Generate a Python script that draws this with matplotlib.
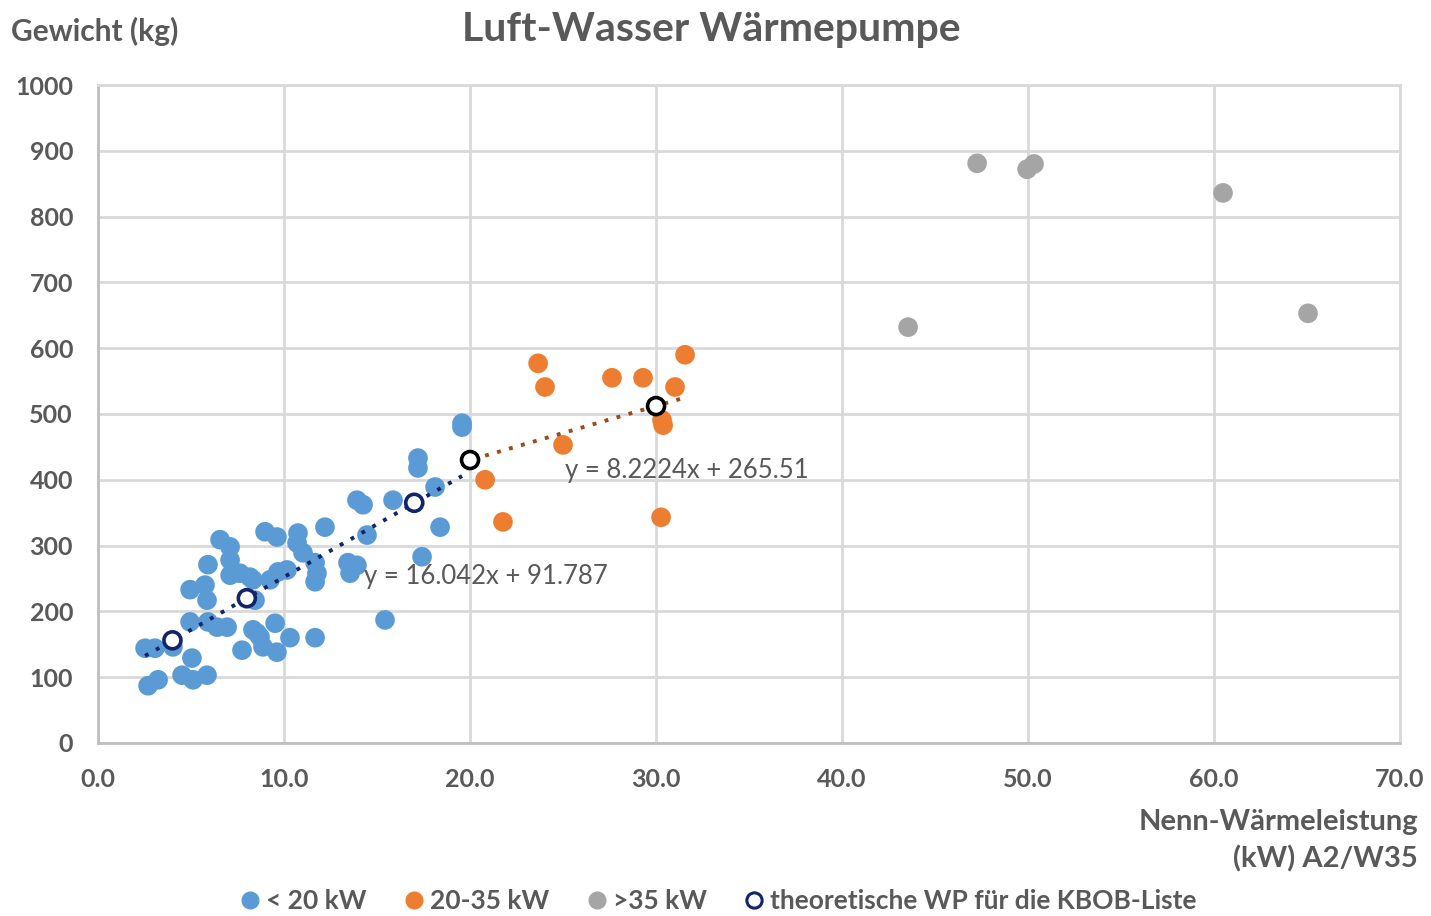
import numpy as np
import matplotlib
matplotlib.use("Agg")
from matplotlib import pyplot as plt
from matplotlib.lines import Line2D

# --- data ---
blue_x = [2.69, 3.23, 2.53, 3.06, 4.03, 5.05, 4.52, 5.11, 5.86, 4.95, 5.91, 6.40, 6.94,
          4.95, 5.75, 5.86, 5.91, 6.56, 7.10, 7.10, 7.10, 7.63, 8.17, 8.44, 7.74, 8.33,
          8.71, 8.87, 9.62, 9.52, 10.32, 11.67, 8.98, 9.62, 10.75, 10.70, 11.02, 12.20,
          11.67, 11.67, 9.68, 9.25, 10.16, 8.33, 11.77, 13.44, 13.55, 13.92, 13.92, 14.25,
          14.46, 15.86, 18.12, 18.39, 17.42, 15.43, 17.20, 17.20, 19.57, 19.57, 8.55]
blue_y = [87, 96, 144, 144, 146, 129, 103, 96, 103, 184, 184, 176, 176,
          233, 240, 217, 271, 309, 298, 278, 255, 258, 252, 217, 141, 172,
          161, 146, 138, 182, 160, 160, 321, 313, 319, 304, 289, 328,
          274, 245, 260, 248, 263, 248, 258, 274, 258, 270, 369, 362,
          316, 369, 389, 328, 283, 187, 433, 418, 480, 486, 167]

orange_x = [23.66, 24.03, 27.63, 29.30, 31.56, 31.02, 30.32, 30.38, 25.0, 20.81, 21.77, 30.27]
orange_y = [577, 541, 555, 555, 590, 541, 491, 483, 453, 400, 336, 343]

gray_x = [43.55, 47.26, 49.95, 50.32, 60.48, 65.05]
gray_y = [632, 881, 872, 880, 836, 653]

# theoretical heat pumps for the KBOB list
kbob_x = [4, 8, 17, 20, 30]
kbob_y = [156, 220, 365, 430, 512]

# trendlines (as printed on the chart)
fit_small = (16.042, 91.787)
fit_mid = (8.2224, 265.51)

c_blue = "#5b9bd5"
c_orange = "#ed7d31"
c_gray = "#a5a5a5"
c_navy = "#13246b"
c_text = "#595959"

plt.rcParams["font.family"] = ["Lato", "DejaVu Sans"]

fig = plt.figure(figsize=(14.31, 9.16), dpi=100)
ax = fig.add_axes([0.0685, 0.1889, 0.9099, 0.7183])

ax.scatter(blue_x, blue_y, s=200, color=c_blue, edgecolors="none", zorder=3)
ax.scatter(orange_x, orange_y, s=200, color=c_orange, edgecolors="none", zorder=3)
ax.scatter(gray_x, gray_y, s=200, color=c_gray, edgecolors="none", zorder=3)

# trendlines over the range of each group
xs = np.array([min(blue_x), max(blue_x)])
ax.plot(xs, fit_small[0] * xs + fit_small[1], ls=(0, (1, 2.2)), lw=2.8,
        color=c_navy, zorder=4)
xo = np.array([min(orange_x), max(orange_x)])
ax.plot(xo, fit_mid[0] * xo + fit_mid[1], ls=(0, (1, 2.2)), lw=2.8,
        color="#9c4a1a", zorder=4)

kbob_col = [c_navy, c_navy, c_navy, "black", "black"]
ax.scatter(kbob_x, kbob_y, s=150, facecolors="white", edgecolors=kbob_col,
           linewidths=2.6, zorder=5)

ax.text(14.3, 253, "y = 16.042x + 91.787", fontsize=18.5, color=c_text,
        va="center", zorder=6)
ax.text(25.1, 414, "y = 8.2224x + 265.51", fontsize=18.5, color=c_text,
        va="center", zorder=6)

ax.set_xlim(0, 70)
ax.set_ylim(0, 1000)
ax.set_xticks(np.arange(0, 71, 10))
ax.set_xticklabels([f"{v:.1f}" for v in np.arange(0, 71, 10)])
ax.set_yticks(np.arange(0, 1001, 100))
ax.grid(True, color="#d9d9d9", lw=2)
ax.set_axisbelow(True)
for sp in ax.spines.values():
    sp.set_color("#d9d9d9")
    sp.set_linewidth(2)
ax.spines["left"].set_color("#bfbfbf")
ax.spines["bottom"].set_color("#bfbfbf")
ax.tick_params(length=0, labelsize=18, labelcolor=c_text, pad=18)
for lab in ax.get_xticklabels() + ax.get_yticklabels():
    lab.set_fontweight("bold")

fig.text(0.497, 0.968, "Luft-Wasser Wärmepumpe", ha="center", va="center",
         fontsize=29.5, fontweight="bold", color=c_text)
fig.text(0.008, 0.966, "Gewicht (kg)", ha="left", va="center",
         fontsize=21.5, fontweight="bold", color=c_text)
fig.text(0.991, 0.082, "Nenn-Wärmeleistung\n(kW) A2/W35", ha="right", va="center",
         fontsize=21, fontweight="bold", color=c_text, linespacing=1.45,
         multialignment="right")

handles = [
    Line2D([], [], marker="o", ls="", color=c_blue, markersize=12),
    Line2D([], [], marker="o", ls="", color=c_orange, markersize=12),
    Line2D([], [], marker="o", ls="", color=c_gray, markersize=12),
    Line2D([], [], marker="o", ls="", markerfacecolor="white",
           markeredgecolor=c_navy, markeredgewidth=2.2, markersize=11),
]
labels = ["< 20 kW", "20-35 kW", ">35 kW", "theoretische WP für die KBOB-Liste"]
leg = fig.legend(handles, labels, loc="center", bbox_to_anchor=(0.501, 0.016),
                 ncol=4, frameon=False, handletextpad=0.1, handlelength=1.0,
                 columnspacing=1.3, prop={"size": 19, "weight": "bold"})
for t in leg.get_texts():
    t.set_color(c_text)

fig.savefig("out.png", dpi=100)
